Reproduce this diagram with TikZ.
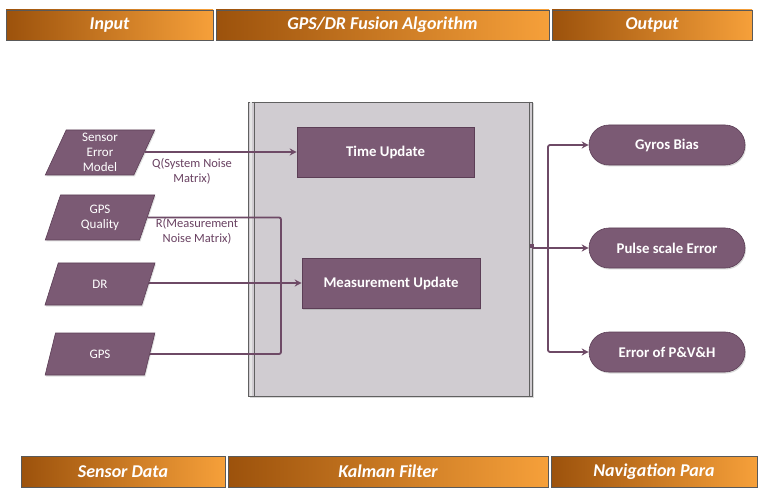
\documentclass[tikz,border=0pt]{standalone}
\usepackage{fontspec}
\setmainfont{Carlito}
\usetikzlibrary{shapes.geometric,arrows.meta,shadows}
\definecolor{mauve}{HTML}{7B5A74}
\definecolor{mauvedark}{HTML}{5C3E56}
\definecolor{linec}{HTML}{6E4A66}
\definecolor{labc}{HTML}{6A4262}
\definecolor{orL}{HTML}{9C520C}
\definecolor{orR}{HTML}{F6A03A}
\definecolor{grayfill}{HTML}{D0CCD1}
\tikzset{
  bar/.style={draw=gray!70!black, line width=0.6pt, left color=orL, right color=orR,
     minimum height=30pt, inner sep=0pt, text=white, font=\bfseries\itshape\fontsize{18}{18}\selectfont},
  para/.style={trapezium, trapezium left angle=74, trapezium right angle=106, trapezium stretches=true,
     draw=mauvedark, line width=0.6pt, fill=mauve, text=white, minimum width=110pt,
     align=center, inner sep=0pt, font=\fontsize{13}{15}\selectfont,
     drop shadow={opacity=0.25, shadow xshift=1pt, shadow yshift=-1.5pt}},
  pbox/.style={rectangle, draw=mauvedark, line width=0.6pt, fill=mauve, text=white,
     font=\bfseries\fontsize{14.8}{17}\selectfont, minimum height=50pt,
     drop shadow={opacity=0.3, shadow xshift=1pt, shadow yshift=-1.5pt}},
  rbox/.style={rectangle, rounded corners=20pt, draw=mauvedark, line width=0.6pt, fill=mauve, text=white,
     font=\bfseries\fontsize{14.8}{17}\selectfont, minimum width=156pt, minimum height=40pt,
     drop shadow={opacity=0.3, shadow xshift=1pt, shadow yshift=-1.5pt}},
  conn/.style={draw=linec, line width=1.8pt, rounded corners=2pt},
  arr/.style={conn, -{Stealth[length=7pt,width=7pt]}},
  lab/.style={text=labc, align=center, font=\fontsize{12.5}{15}\selectfont, inner sep=0pt}
}
\begin{document}
\begin{tikzpicture}[x=1pt,y=-1pt]
\useasboundingbox (0,0) rectangle (768,494);
\fill[white] (0,0) rectangle (768,494);

% header bars
\node[bar, minimum width=207pt] (hin) at (109.5,25) {Input};
\node[bar, minimum width=333pt] (halg) at (382.5,25) {GPS/DR Fusion Algorithm};
\node[bar, minimum width=200pt] (hout) at (652,25) {Output};

% footer bars
\node[bar, minimum width=204pt, minimum height=31pt] (fsd) at (123,471.5) {Sensor Data};
\node[bar, minimum width=320pt, minimum height=31pt] (fkf) at (388,471.5) {Kalman Filter};
\node[bar, minimum width=206pt, minimum height=31pt] (fnp) at (654,471.5) {Navigation Para};

% Kalman filter container
\node[rectangle, draw=gray!75!black, line width=0.8pt, fill=grayfill, minimum width=284pt, minimum height=294pt,
      drop shadow={opacity=0.3, shadow xshift=1.5pt, shadow yshift=-1.5pt}] (kf) at (390,249) {};
\draw[gray!75!black, line width=0.6pt] ([xshift=7pt]kf.north west) -- ([xshift=7pt]kf.south west);
\draw[gray!75!black, line width=0.6pt] ([xshift=-3pt]kf.north east) -- ([xshift=-3pt]kf.south east);
\draw[white!80!gray, line width=1.5pt] ([xshift=3.5pt]kf.north west) -- ([xshift=3.5pt]kf.south west);

\node[pbox, minimum width=177pt] (tu) at (385.5,152) {Time Update};
\node[pbox, minimum width=178pt] (mu) at (391,283) {Measurement Update};

% inputs
\node[para, minimum height=45pt] (sem) at (100,152.5) {Sensor\\Error\\Model};
\node[para, minimum height=45pt] (gq) at (100,217.5) {GPS\\Quality};
\node[para, minimum height=42pt] (dr) at (100,284) {DR};
\node[para, minimum height=42pt] (gps) at (100,354) {GPS};

% outputs
\node[rbox] (gb) at (667,145) {Gyros Bias};
\node[rbox] (pse) at (667,248) {Pulse scale Error};
\node[rbox] (epvh) at (667,352) {Error of P\&V\&H};

% input connectors
\draw[arr] (sem.east |- tu.west) -- (tu.west);
\coordinate (busL) at (281,0);
\draw[conn] (gq.east) -- (gq.east -| busL) |- (gps.east);
\draw[arr] (dr.east |- mu.west) -- (mu.west);

\node[lab] (lq) at (192,171) {Q(System Noise\\Matrix)};
\node[lab] (lr) at (197,231) {R(Measurement\\Noise Matrix)};

% output connectors
\coordinate (busR) at (548,248);
\draw[conn] (kf.east |- busR) -- (busR);
\fill[linec] ([xshift=-2pt]kf.east |- busR) rectangle ++(4,-4);
\draw[arr] (busR) |- (gb.west);
\draw[arr] (busR) -- (pse.west);
\draw[arr] (busR) |- (epvh.west);
\end{tikzpicture}
\end{document}
